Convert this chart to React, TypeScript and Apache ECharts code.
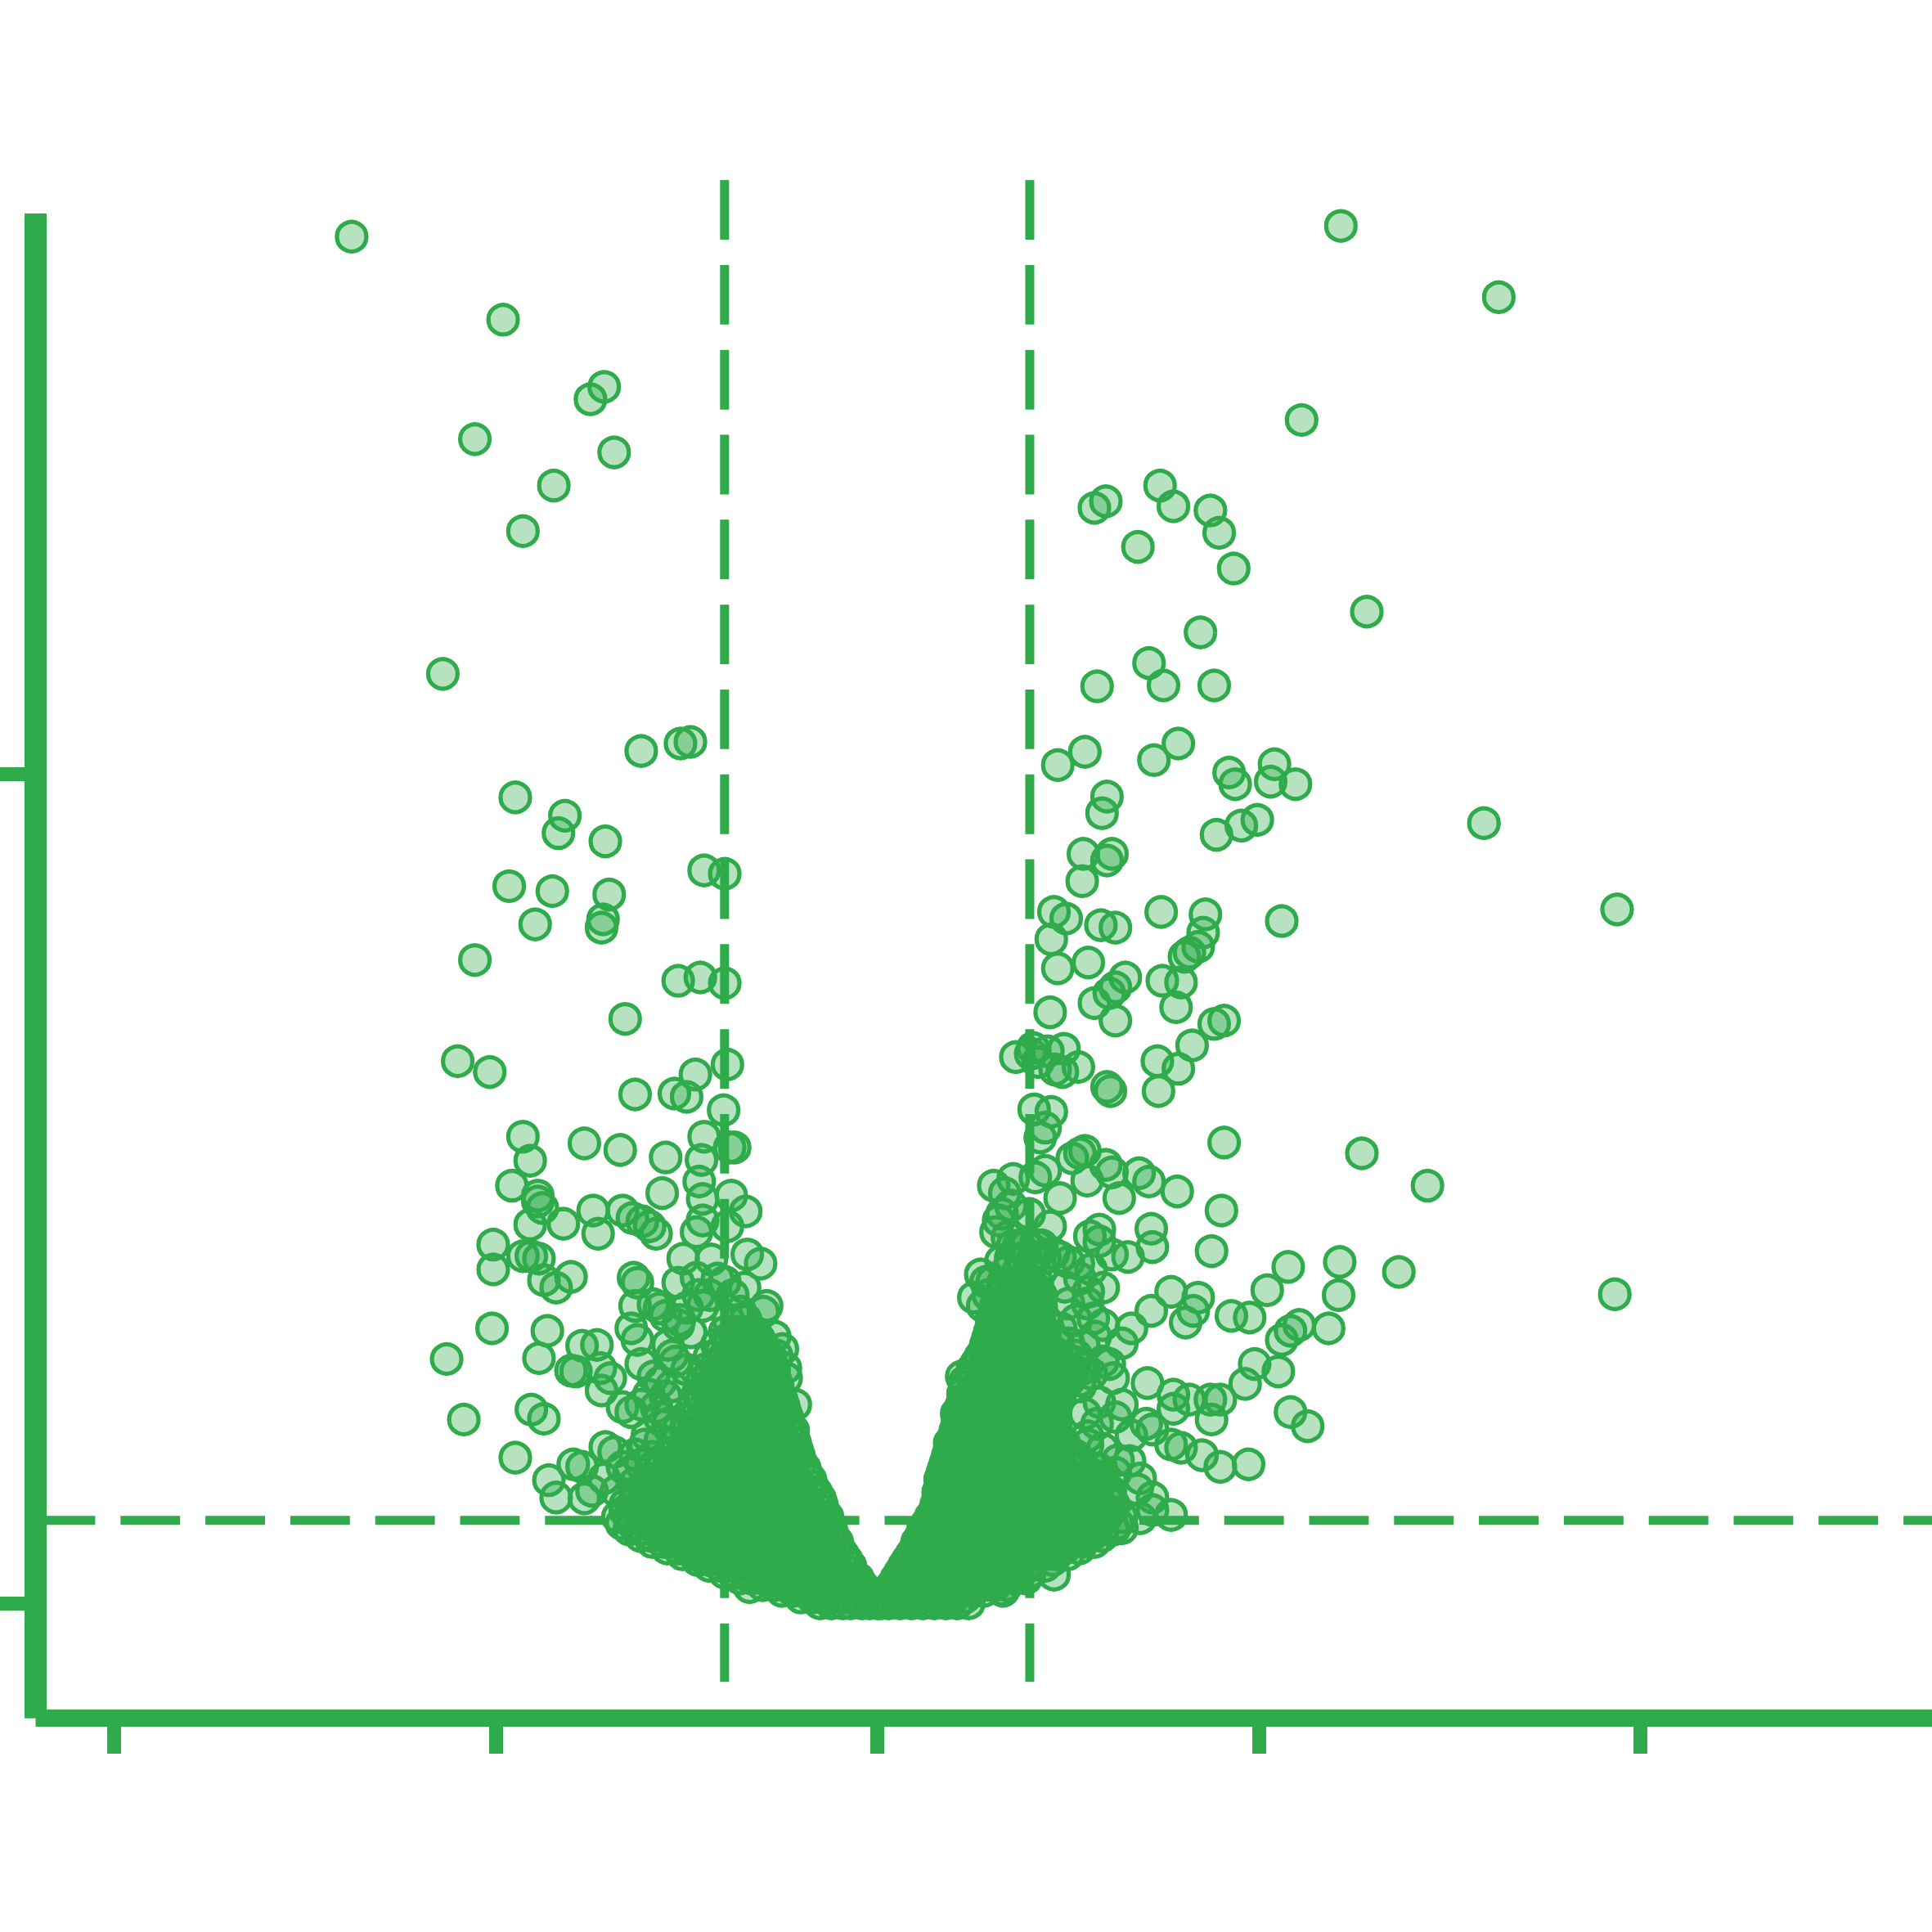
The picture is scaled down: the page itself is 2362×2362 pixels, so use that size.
import React, { useEffect, useRef } from "react";
import * as echarts from "echarts";

const GREEN = "#2fab4b";
const xTicks = [-2, -1, 0, 1, 2];
const yTicks = [0, 10];
const foldThreshold = 0.4;
const significanceLine = 1;
const readCorrection = [0.0015, 0.015];

const leftOutliers: number[][] = [
[-1.379,16.46],[-.982,15.46],[-.717,14.65],[-.753,14.5],[-1.056,14.02],[-.691,13.86],[-.849,13.46],[-.93,12.91],[-1.14,11.19],[-.62,10.26],[-.517,10.35],[-.491,10.37],[-.95,9.7],[-.82,9.48],[-.837,9.27],[-.714,9.17],[-.455,8.82],[-.401,8.78],[-.966,8.63],[-.853,8.57],[-.704,8.53],[-.72,8.23],[-.724,8.13],[-.898,8.17],[-1.056,7.74],[-.523,7.49],[-.465,7.53],[-.401,7.46],[-.662,7.03],[-1.101,6.52],[-1.017,6.39],[-.394,6.48],[-.478,6.36],[-.636,6.12],[-.533,6.13],[-.501,6.09],[-.404,5.93],[-.93,5.61],[-.769,5.53],[-.675,5.45],[-.455,5.61],[-.388,5.48],[-.375,5.48],[-.556,5.36],[-.462,5.33],[-.911,5.32],[-.468,5.07],[-.959,5.02],[-.565,4.93],[-.891,4.9],[-.891,4.83],[-.879,4.75],[-.384,4.9],[-.459,4.86],[-.346,4.71],[-.746,4.72],[-.669,4.72],[-.643,4.63],[-.617,4.59],[-.598,4.53],[-.581,4.44],[-.911,4.55],[-.824,4.56],[-.733,4.44],[-.459,4.6],[-.475,4.46],[-.394,4.53],[-1.008,4.31],[-1.008,4.01],[-.93,4.17],[-.908,4.17],[-.888,4.14],[-.51,4.14],[-.436,4.13],[-.342,4.19],[-.307,4.08],[-.804,3.92],[-.875,3.88],[-.843,3.79],[-.64,3.91],[-.63,3.85],[-.523,3.85],[-.475,3.91],[-.401,3.86],[-.349,3.79],[-.636,3.57],[-.588,3.59],[-.572,3.54],[-.556,3.45],[-.459,3.57],[-.291,3.57],[-.646,3.3],[-.523,3.34],[-1.011,3.3],[-.866,3.27],[-.63,3.16],[-.775,3.09],[-.736,3.1],[-1.13,2.93],[-.888,2.94],[-.539,2.97],[-.265,2.97],[-.804,2.79],[-.791,2.78],[-.727,2.82],[-.701,2.7],[-.62,2.87],[-.588,2.72],[-.242,2.82],[-.724,2.55],[-.908,2.32],[-.875,2.21],[-1.085,2.2],[-.669,2.35],[-.646,2.29],[-.556,2.48],[-.216,2.38],[-.523,2.08],[-.95,1.74],[-.714,1.87],[-.691,1.81],[-.798,1.66],[-.775,1.63],[-.862,1.47],[-.843,1.26],[-.769,1.25],[-.652,1.56],[-.604,2.01],[-.588,1.63],[-.717,1.49],[-.685,1.34],[-.636,1.78],[-.62,2.38],[-.572,2.23],[-.669,1.63],[-.636,1.26],[-.749,1.34],[-.336,.18],
[-.44,3.7],[-.42,3.9],[-.38,3.7],[-.36,3.5],[-.47,3.7],[-.5,3.55],[-.52,3.4],[-.49,3.25],[-.55,3.1],[-.53,2.9],[-.5,2.8],[-.57,2.65],[-.6,2.5],[-.58,2.35],[-.54,2.6],[-.3,3.5],[-.27,3.2],[-.25,3.05],[-.24,2.7],
[-.61,1.9],[-.59,1.75],[-.62,1.66],[-.57,1.95],[-.55,2.15],[-.6,1.48],[-.64,1.42],
];

const rightOutliers: number[][] = [
[1.214,16.59],[1.628,15.73],[1.111,14.25],[.74,13.46],[.598,13.27],[.568,13.19],[.775,13.21],[.872,13.16],[.895,12.89],[.682,12.72],[.933,12.46],[1.282,11.94],[.846,11.69],[.711,11.32],[.575,11.04],[.749,11.05],[.882,11.05],[.788,10.35],[.543,10.25],[.724,10.15],[.472,10.09],[1.04,10.1],[.921,10],[1.03,9.89],[.937,9.86],[1.095,9.86],[.601,9.71],[.588,9.51],[.995,9.43],[.953,9.36],[.888,9.25],[1.589,9.39],[.539,9.02],[.614,9.02],[.601,8.94],[.536,8.69],[1.938,8.35],[.462,8.32],[.494,8.24],[.743,8.32],[.859,8.29],[1.059,8.21],[.585,8.16],[.623,8.13],[.853,8.07],[.455,7.99],[.84,7.9],[.817,7.83],[.804,7.78],[.552,7.71],[.472,7.64],[.649,7.53],[.623,7.41],[.607,7.34],[.746,7.49],[.795,7.47],[.568,7.22],[.782,7.17],[.452,7.11],[.623,7.01],[.908,7.01],[.882,6.97],[.824,6.71],[.733,6.52],[.788,6.43],[.362,6.57],[.401,6.61],[.407,6.68],[.446,6.64],[.488,6.67],[.42,6.51],[.465,6.42],[.484,6.39],[.526,6.45],[.601,6.21],[.61,6.16],[.736,6.16],[.41,5.94],[.455,5.91],[.439,5.72],[.426,5.6],[.908,5.54],[.543,5.44],[.53,5.41],[.51,5.35],[1.269,5.41],[.598,5.27],[.614,5.18],[.685,5.17],[.711,5.07],[.439,5.2],[.413,5.12],[.549,5.08],[.355,5.1],[.304,5.02],[.785,4.95],[1.441,5.02],[.333,4.93],[.633,4.87],[.349,4.78],[.478,4.87],[.326,4.68],[.901,4.72],[.317,4.6],[.31,4.46],[.397,4.68],[.452,4.53],[.717,4.5],[.581,4.49],[.556,4.41],[.581,4.35],[.72,4.28],[.614,4.19],[.656,4.16],[.875,4.23],[1.076,4.04],[1.211,4.1],[1.366,3.98],[.323,4.11],[.413,4.16],[.478,4.16],[.526,4.08],[.559,4.01],[.284,3.86],[1.021,3.76],[1.208,3.7],[1.932,3.71],[.591,3.79],[.552,3.74],[.252,3.67],[.769,3.74],[.84,3.67],[.275,3.57],[.717,3.51],[.827,3.51],[.807,3.37],[.927,3.45],[.975,3.43],[.565,3.42],[.591,3.34],[.665,3.3],[1.105,3.34],[1.182,3.3],[1.082,3.27],[1.059,3.16],[.294,3.15],[.64,3.12],[.988,2.87],[.607,2.87],[.617,2.7],[1.05,2.78],[.22,2.72],[.707,2.64],[.963,2.63],[.775,2.5],[.817,2.44],[.872,2.44],[.898,2.44],[.64,2.38],[.581,2.41],[.543,2.27],[.575,2.15],[.775,2.33],[1.082,2.29],[1.127,2.12],[.875,2.2],[.207,2.27],[.704,2.15],[.623,2.23],[.72,2.08],[.665,2.01],[.769,1.9],[.795,1.86],[.85,1.77],[.898,1.63],[.972,1.66],[.63,1.71],[.526,1.71],[.623,1.56],[.688,1.49],[.72,1.26],[.72,1.11],[.769,1.05],[.688,1.01],[.64,.89],[.462,.33],[.323,.15],
[.61,1.34],[.58,1.6],[.55,1.9],[.59,1.85],[.66,1.7],[.68,1.36],[.55,2],[.34,4.4],[.37,4.3],[.43,4.3],[.46,4.2],[.5,4.1],[.53,3.9],[.49,3.8],[.55,3.6],[.52,3.4],[.57,3.2],[.54,3.1],[.48,3.3],[.5,3.6],[.59,2.9],[.56,2.75],
[.52,2.97],[.54,2.82],[.53,2.67],[.52,2.89],[.53,2.6],[.5,3.12],[.51,2.74],[.27,3.95],[.29,3.7],[.3,3.86],
];

const denseLeftY = [0,.15,.3,.45,.59,.74,.89,1.04,1.19,1.34,1.49,1.63,1.78,1.93,2.08,2.23,2.38,2.53,2.67,2.82,2.97,3.12,3.27,3.42];
const denseLeftX: number[][] = [
[-.15,-.12,-.09,-.07,-.04,-.02,0],
[-.25,-.22,-.19,-.16,-.13,-.1,-.08,-.05,-.025],
[-.36,-.33,-.3,-.27,-.24,-.21,-.18,-.15,-.12,-.09,-.07,-.05],
[-.44,-.41,-.38,-.35,-.32,-.29,-.26,-.23,-.2,-.17,-.14,-.11,-.07],
[-.51,-.48,-.45,-.42,-.39,-.36,-.33,-.3,-.27,-.24,-.21,-.18,-.15,-.12,-.09],
[-.59,-.56,-.53,-.5,-.47,-.44,-.41,-.38,-.35,-.32,-.29,-.26,-.23,-.2,-.17,-.14,-.105],
[-.65,-.62,-.58,-.55,-.52,-.49,-.46,-.43,-.4,-.37,-.34,-.31,-.28,-.25,-.22,-.19,-.16,-.12],
[-.68,-.64,-.61,-.57,-.54,-.51,-.48,-.45,-.42,-.39,-.36,-.33,-.3,-.27,-.24,-.21,-.18,-.15,-.13],
[-.66,-.62,-.59,-.55,-.52,-.49,-.46,-.43,-.4,-.37,-.34,-.31,-.28,-.25,-.22,-.19,-.145],
[-.63,-.58,-.54,-.51,-.48,-.45,-.42,-.39,-.36,-.33,-.3,-.27,-.24,-.21,-.18,-.16],
[-.6,-.56,-.52,-.49,-.46,-.43,-.4,-.37,-.34,-.31,-.28,-.25,-.22,-.175],
[-.57,-.53,-.5,-.47,-.44,-.41,-.38,-.35,-.32,-.29,-.26,-.23,-.19],
[-.54,-.51,-.48,-.45,-.42,-.39,-.36,-.33,-.3,-.27,-.24,-.205],
[-.53,-.49,-.46,-.43,-.4,-.37,-.34,-.31,-.28,-.25,-.215],
[-.5,-.47,-.44,-.41,-.38,-.35,-.32,-.29,-.26,-.22],
[-.5,-.46,-.43,-.4,-.37,-.34,-.31,-.28,-.235],
[-.48,-.44,-.41,-.38,-.35,-.32,-.29,-.245],
[-.47,-.43,-.4,-.37,-.34,-.31,-.28,-.26],
[-.46,-.42,-.39,-.36,-.33,-.3,-.265],
[-.45,-.41,-.38,-.35,-.32,-.29,-.27],
[-.44,-.4,-.37,-.34,-.31,-.28],
[-.42,-.39,-.36,-.33,-.3],
[-.4,-.37,-.34,-.32],
[-.39,-.36,-.345],
];

const denseLeftMidY = [.07,.22,.37,.52,.66,.81,.96,1.11,1.26,1.41,1.56,1.7,1.85,2,2.15,2.3,2.45,2.6,2.74,2.89,3.04,3.19];
const denseLeftMidX: number[][] = [
[-.2,-.17,-.14,-.11,-.08,-.05,-.03,-.01],
[-.3,-.27,-.24,-.21,-.18,-.15,-.12,-.09,-.06,-.04],
[-.4,-.37,-.34,-.31,-.28,-.25,-.22,-.19,-.16,-.13,-.1,-.07],
[-.47,-.44,-.41,-.38,-.35,-.32,-.29,-.26,-.23,-.2,-.17,-.14,-.11,-.08],
[-.55,-.52,-.49,-.46,-.43,-.4,-.37,-.34,-.31,-.28,-.25,-.22,-.19,-.16,-.13,-.1],
[-.62,-.59,-.56,-.53,-.5,-.47,-.44,-.41,-.38,-.35,-.32,-.29,-.26,-.23,-.2,-.17,-.14,-.115],
[-.67,-.64,-.6,-.56,-.53,-.5,-.47,-.44,-.41,-.38,-.35,-.32,-.29,-.26,-.23,-.2,-.17,-.125],
[-.66,-.63,-.6,-.56,-.53,-.5,-.47,-.44,-.41,-.38,-.35,-.32,-.29,-.26,-.23,-.2,-.17,-.14],
[-.63,-.6,-.57,-.53,-.5,-.47,-.44,-.41,-.38,-.35,-.32,-.29,-.26,-.23,-.2,-.15],
[-.6,-.56,-.53,-.5,-.47,-.44,-.41,-.38,-.35,-.32,-.29,-.26,-.23,-.2,-.17],
[-.56,-.53,-.5,-.47,-.44,-.41,-.38,-.35,-.32,-.29,-.26,-.23,-.185],
[-.53,-.49,-.46,-.43,-.4,-.37,-.34,-.31,-.28,-.25,-.22,-.2],
[-.51,-.47,-.44,-.41,-.38,-.35,-.32,-.29,-.26,-.23,-.21],
[-.49,-.46,-.43,-.4,-.37,-.34,-.31,-.28,-.25,-.22],
[-.48,-.45,-.42,-.39,-.36,-.33,-.3,-.27,-.23],
[-.47,-.44,-.41,-.38,-.35,-.32,-.29,-.26,-.24],
[-.46,-.43,-.4,-.37,-.34,-.31,-.28,-.25],
[-.45,-.42,-.39,-.36,-.33,-.3,-.26],
[-.44,-.41,-.38,-.35,-.32,-.29,-.27],
[-.42,-.39,-.36,-.33,-.3,-.28],
[-.41,-.38,-.35,-.32,-.3],
[-.39,-.36,-.33,-.31],
];

const denseRightY = [0,.15,.3,.45,.59,.74,.89,1.04,1.19,1.34,1.49,1.63,1.78,1.93,2.08,2.23,2.38,2.53,2.67,2.82,2.97,3.12,3.27,3.42,3.57,3.71,3.86,4.01,4.16,4.31];
const denseRightX: number[][] = [
[.01,.03,.06,.09,.12,.15,.18,.21,.24],
[.025,.04,.07,.1,.13,.16,.19,.22,.25,.28,.33],
[.05,.06,.09,.12,.15,.18,.21,.24,.27,.3,.33,.36,.39],
[.07,.1,.13,.16,.19,.22,.25,.28,.31,.34,.37,.4,.44],
[.09,.11,.14,.17,.2,.23,.26,.29,.32,.35,.38,.41,.44,.47,.5],
[.105,.12,.15,.18,.21,.24,.27,.3,.33,.36,.39,.42,.45,.48,.51,.54,.57],
[.12,.14,.17,.2,.23,.26,.29,.32,.35,.38,.41,.44,.47,.5,.53,.56,.59,.62],
[.14,.15,.18,.21,.24,.27,.3,.33,.36,.39,.42,.45,.48,.51,.54,.57,.6,.64],
[.155,.16,.19,.22,.25,.28,.31,.34,.37,.4,.43,.46,.49,.52,.55,.58,.62],
[.16,.18,.21,.24,.27,.3,.33,.36,.39,.42,.45,.48,.51,.54,.57,.6],
[.165,.17,.2,.23,.26,.29,.32,.35,.38,.41,.44,.47,.5,.53,.56,.59],
[.175,.18,.21,.24,.27,.3,.33,.36,.39,.42,.45,.48,.51,.54,.57],
[.185,.2,.23,.26,.29,.32,.35,.38,.41,.44,.47,.5,.52],
[.19,.21,.24,.27,.3,.33,.36,.39,.42,.45,.48,.49],
[.205,.22,.25,.28,.31,.34,.37,.4,.43,.46,.47],
[.215,.23,.26,.29,.32,.35,.38,.41,.44,.46],
[.22,.25,.28,.31,.34,.37,.4,.43,.46],
[.225,.26,.29,.32,.35,.38,.41,.44,.48],
[.23,.27,.3,.33,.36,.39,.42,.45,.5],
[.25,.28,.31,.34,.37,.4,.43,.47,.51],
[.27,.3,.33,.36,.39,.42,.45,.49],
[.285,.31,.34,.37,.4,.43,.47],
[.295,.32,.35,.38,.41,.44],
[.3,.33,.36,.39,.42,.44],
[.31,.34,.37,.4,.43],
[.32,.35,.38,.41,.43],
[.33,.36,.39,.42],
[.34,.37,.4,.43],
[.35,.38,.41,.44],
[.355,.39,.42],
];

const denseRightMidY = [.07,.22,.37,.52,.66,.81,.96,1.11,1.26,1.41,1.56,1.7,1.85,2,2.15,2.3,2.45,2.6,2.74,2.89,3.04,3.19,3.34,3.5,3.64,3.78];
const denseRightMidX: number[][] = [
[.02,.05,.08,.11,.14,.17,.2,.23],
[.04,.07,.1,.13,.16,.19,.22,.25,.28,.31,.34],
[.06,.09,.12,.15,.18,.21,.24,.27,.3,.33,.36,.4],
[.08,.11,.14,.17,.2,.23,.26,.29,.32,.35,.38,.41,.46],
[.1,.13,.16,.19,.22,.25,.28,.31,.34,.37,.4,.43,.46,.49,.53],
[.115,.14,.17,.2,.23,.26,.29,.32,.35,.38,.41,.44,.47,.5,.53,.56,.59],
[.13,.16,.19,.22,.25,.28,.31,.34,.37,.4,.43,.46,.49,.52,.55,.58,.63],
[.15,.18,.21,.24,.27,.3,.33,.36,.39,.42,.45,.48,.51,.54,.57,.61],
[.16,.19,.22,.25,.28,.31,.34,.37,.4,.43,.46,.49,.52,.55,.6],
[.17,.2,.23,.26,.29,.32,.35,.38,.41,.44,.47,.5,.53,.58],
[.17,.2,.23,.26,.29,.32,.35,.38,.41,.44,.47,.5,.56],
[.18,.21,.24,.27,.3,.33,.36,.39,.42,.45,.5],
[.19,.22,.25,.28,.31,.34,.37,.4,.43,.48],
[.2,.23,.26,.29,.32,.35,.38,.41,.44,.47],
[.21,.24,.27,.3,.33,.36,.39,.42,.46],
[.22,.25,.28,.31,.34,.37,.4,.43,.46],
[.225,.26,.29,.32,.35,.38,.41,.44,.47],
[.23,.27,.3,.33,.36,.39,.42,.48],
[.25,.28,.31,.34,.37,.4,.43,.49],
[.26,.29,.32,.35,.38,.41,.44,.48],
[.28,.31,.34,.37,.4,.43,.46],
[.29,.32,.35,.38,.41,.44],
[.3,.33,.36,.39,.43],
[.31,.34,.37,.42],
[.33,.36,.39,.42],
[.33,.36,.39,.42],
];

const rowsToPoints = (ys: number[], rows: number[][]) =>
  rows.flatMap((xs, i) => xs.map((x) => [x, ys[i]]));
const corrected = (points: number[][]) =>
  points.map(([x, y]) => [x + readCorrection[0], y + readCorrection[1]]);

const dashLine = (data: number[][]) => ({
  type: "line",
  data,
  showSymbol: false,
  symbol: "none",
  clip: false,
  silent: true,
  z: 1,
  lineStyle: { color: GREEN, width: 11, type: [72.9, 30.9], cap: "butt" },
});

export default function App() {
  const ref = useRef<HTMLDivElement>(null);
  useEffect(() => {
    document.body.style.margin = "0";
    const chart = echarts.init(ref.current!, null, { renderer: "svg" });
    const xMin = -2.206, xMax = 2.765, yMin = -1.386, yMax = 16.755;
    chart.setOption({
      animation: false,
      backgroundColor: "#ffffff",
      grid: { left: 43.5, top: 261, width: 2318.5, height: 1839.7 },
      xAxis: {
        type: "value", min: xMin, max: xMax, splitLine: { show: false },
        axisLine: { show: true, onZero: false, lineStyle: { color: GREEN, width: 21, cap: "butt" } },
        axisTick: { show: true, customValues: xTicks, length: 43.3, lineStyle: { color: GREEN, width: 17 } },
        axisLabel: { show: false },
      },
      yAxis: {
        type: "value", min: yMin, max: yMax, splitLine: { show: false },
        axisLine: { show: true, onZero: false, lineStyle: { color: GREEN, width: 27, cap: "butt" } },
        axisTick: { show: true, customValues: yTicks, length: 44, lineStyle: { color: GREEN, width: 17 } },
        axisLabel: { show: false },
      },
      series: [
        dashLine([[xMin, significanceLine], [xMax, significanceLine]]),
        dashLine([[-foldThreshold, 17.158], [-foldThreshold, -0.947]]),
        dashLine([[foldThreshold, 17.158], [foldThreshold, -0.947]]),
        {
          type: "scatter",
          data: [
            ...rowsToPoints(denseLeftY, denseLeftX),
            ...rowsToPoints(denseLeftMidY, denseLeftMidX),
            ...rowsToPoints(denseRightY, denseRightX),
            ...rowsToPoints(denseRightMidY, denseRightMidX),
            ...corrected(leftOutliers),
            ...corrected(rightOutliers),
          ],
          symbol: "circle",
          symbolSize: 36,
          z: 2,
          clip: false,
          itemStyle: { color: "rgba(47,171,75,0.35)", borderColor: GREEN, borderWidth: 5.2, opacity: 1 },
        },
      ],
    });
    return () => chart.dispose();
  }, []);
  return <div ref={ref} style={{ position: "absolute", left: 0, top: 0, width: 2362, height: 2362 }} />;
}
